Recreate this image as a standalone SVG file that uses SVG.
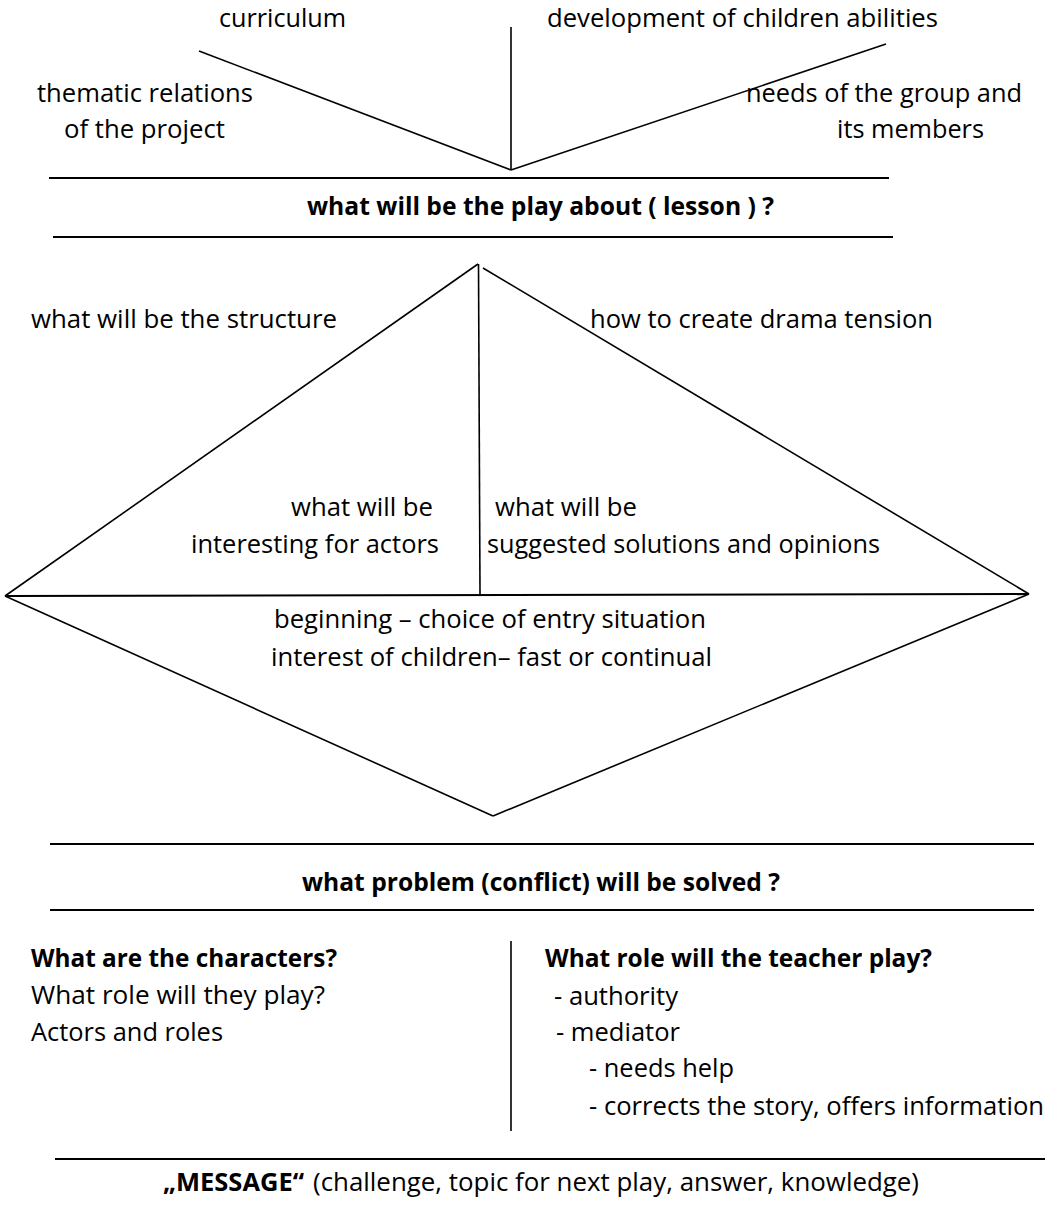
<svg xmlns="http://www.w3.org/2000/svg" width="1045" height="1212" viewBox="0 0 1045 1212">
  <style>
    text { font-family: "Open Sans", "Noto Sans", "Liberation Sans", sans-serif; font-size: 25.5px; fill: #000; }
    .b { font-weight: bold; }
    .ln { stroke: #000; stroke-width: 1.6; fill: none; stroke-linecap: butt; }
    .rule { stroke: #000; stroke-width: 2.2; fill: none; }
  </style>
  <rect width="1045" height="1212" fill="#fff"/>

  <!-- lines, diagonals and separators -->
  <g id="connectors">
    <!-- top fan -->
    <line class="ln" x1="511" y1="27" x2="511" y2="170"/>
    <line class="ln" x1="199" y1="51" x2="511" y2="170"/>
    <line class="ln" x1="511" y1="170" x2="886" y2="44"/>
    <!-- separators round the lesson question -->
    <line class="rule" x1="49" y1="178" x2="889" y2="178"/>
    <line class="rule" x1="53" y1="237" x2="893" y2="237"/>
    <!-- diamond -->
    <line class="ln" x1="478" y1="264" x2="5" y2="596"/>
    <line class="ln" x1="483" y1="268" x2="1029" y2="594"/>
    <line class="ln" x1="478.5" y1="264" x2="480" y2="594"/>
    <line class="rule" x1="5" y1="596" x2="1029" y2="594"/>
    <line class="ln" x1="5" y1="596" x2="493" y2="816"/>
    <line class="ln" x1="493" y1="816" x2="1029" y2="594"/>
    <!-- separators round the conflict question -->
    <line class="rule" x1="50" y1="844" x2="1034" y2="844"/>
    <line class="rule" x1="50" y1="910" x2="1034" y2="910"/>
    <!-- column divider -->
    <line class="ln" x1="511" y1="941" x2="511" y2="1131"/>
    <!-- separator above the message -->
    <line class="rule" x1="55" y1="1159" x2="1045" y2="1159"/>
  </g>

  <g id="curriculum">
    <text x="219" y="27" textLength="127" lengthAdjust="spacingAndGlyphs">curriculum</text>
  </g>
  <g id="abilities">
    <text x="547" y="27" textLength="391" lengthAdjust="spacingAndGlyphs">development of children abilities</text>
  </g>
  <g id="thematic-relations">
    <text x="37" y="102" textLength="216" lengthAdjust="spacingAndGlyphs">thematic relations</text>
    <text x="64" y="138" textLength="161" lengthAdjust="spacingAndGlyphs">of the project</text>
  </g>
  <g id="group-needs">
    <text x="746" y="102" textLength="276" lengthAdjust="spacingAndGlyphs">needs of the group and</text>
    <text x="837" y="138" textLength="147" lengthAdjust="spacingAndGlyphs">its members</text>
  </g>

  <g id="lesson-question">
    <text class="b" x="307" y="215" textLength="467" lengthAdjust="spacingAndGlyphs">what will be the play about ( lesson ) ?</text>
  </g>

  <g id="structure">
    <text x="31" y="328" textLength="306" lengthAdjust="spacingAndGlyphs">what will be the structure</text>
  </g>
  <g id="tension">
    <text x="590" y="328" textLength="343" lengthAdjust="spacingAndGlyphs">how to create drama tension</text>
  </g>
  <g id="interesting">
    <text x="291" y="516" textLength="142" lengthAdjust="spacingAndGlyphs">what will be</text>
    <text x="191" y="553" textLength="248" lengthAdjust="spacingAndGlyphs">interesting for actors</text>
  </g>
  <g id="solutions">
    <text x="495" y="516" textLength="142" lengthAdjust="spacingAndGlyphs">what will be</text>
    <text x="487" y="553" textLength="393" lengthAdjust="spacingAndGlyphs">suggested solutions and opinions</text>
  </g>
  <g id="beginning">
    <text x="274" y="628" textLength="432" lengthAdjust="spacingAndGlyphs">beginning – choice of entry situation</text>
    <text x="271" y="666" textLength="441" lengthAdjust="spacingAndGlyphs">interest of children– fast or continual</text>
  </g>

  <g id="conflict-question">
    <text class="b" x="302" y="891" textLength="478" lengthAdjust="spacingAndGlyphs">what problem (conflict) will be solved ?</text>
  </g>

  <g id="characters">
    <text class="b" x="31" y="967" textLength="306" lengthAdjust="spacingAndGlyphs">What are the characters?</text>
    <text x="31" y="1004" textLength="294" lengthAdjust="spacingAndGlyphs">What role will they play?</text>
    <text x="31" y="1041" textLength="192" lengthAdjust="spacingAndGlyphs">Actors and roles</text>
  </g>
  <g id="teacher-role">
    <text class="b" x="545" y="967" textLength="387" lengthAdjust="spacingAndGlyphs">What role will the teacher play?</text>
    <text x="554" y="1005" textLength="124" lengthAdjust="spacingAndGlyphs">- authority</text>
    <text x="556" y="1041" textLength="124" lengthAdjust="spacingAndGlyphs">- mediator</text>
    <text x="589" y="1077" textLength="145" lengthAdjust="spacingAndGlyphs">- needs help</text>
    <text x="589" y="1115" textLength="455" lengthAdjust="spacingAndGlyphs">- corrects the story, offers information</text>
  </g>

  <g id="message">
    <text class="b" x="163" y="1191" textLength="141" lengthAdjust="spacingAndGlyphs">„MESSAGE“</text>
    <text x="313" y="1191" textLength="606" lengthAdjust="spacingAndGlyphs">(challenge, topic for next play, answer, knowledge)</text>
  </g>
</svg>
